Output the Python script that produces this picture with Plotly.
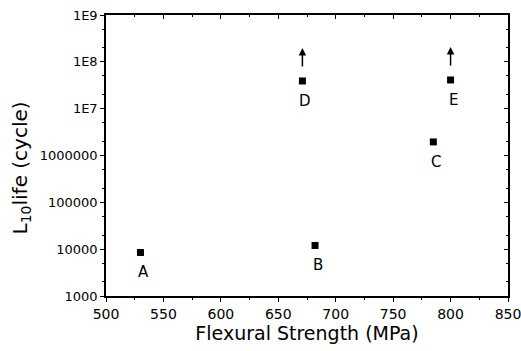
import math
import plotly.graph_objects as go

labels = ["A", "B", "C", "D", "E"]
strength = [530, 682, 785, 671, 800]
life = [8500, 12000, 1950000, 39000000, 41000000]
runout = [False, False, False, True, True]

ytick_vals = [1e3, 1e4, 1e5, 1e6, 1e7, 1e8, 1e9]
ytick_text = ["1000", "10000", "100000", "1000000", "1E7", "1E8", "1E9"]
xtick_vals = [500, 550, 600, 650, 700, 750, 800, 850]

FONT = "DejaVu Sans, Liberation Sans, Arial, sans-serif"

fig = go.Figure()
fig.add_trace(go.Scatter(
    x=strength, y=life, mode="markers",
    marker=dict(symbol="square", size=7, color="black"),
    showlegend=False, hoverinfo="skip",
))
fig.add_trace(go.Scatter(x=[strength[0]], y=[life[0]], xaxis="x2", yaxis="y2",
                         mode="markers", marker=dict(opacity=0), showlegend=False,
                         hoverinfo="skip"))

for lab, xv, yv, ro in zip(labels, strength, life, runout):
    ly = math.log10(yv)
    fig.add_annotation(x=xv, y=ly, text=lab, showarrow=False, xshift=3, yshift=-20,
                       font=dict(size=15, color="black", family=FONT))
    if ro:
        fig.add_annotation(x=xv, y=ly, text="", showarrow=True, ax=0, ay=20,
                           axref="pixel", ayref="pixel", yshift=33,
                           arrowhead=2, arrowsize=1, arrowwidth=1.5, arrowcolor="black")

# y-axis title as a rotated annotation
fig.add_annotation(text="L<sub>10</sub>life (cycle)", textangle=-90, showarrow=False,
                   xref="paper", yref="paper", x=0, y=0.5, xanchor="center",
                   yanchor="middle", xshift=-86, yshift=-13,
                   font=dict(size=20, color="black", family=FONT))

common_axis = dict(showgrid=False, zeroline=False, linecolor="black", linewidth=1.5,
                   tickcolor="black", tickwidth=1.2, automargin=False)

fig.update_layout(
    width=521, height=351,
    margin=dict(l=106, r=13, t=15, b=55),
    plot_bgcolor="white", paper_bgcolor="white",
    font=dict(family=FONT, color="black"),
    xaxis=dict(range=[500, 850], tickvals=xtick_vals, ticks="outside", ticklen=4,
               minor=dict(ticks="outside", ticklen=2, dtick=25, tickcolor="black"),
               ticklabeloverflow="allow",
               tickfont=dict(size=14), title=dict(text="Flexural Strength (MPa)",
               font=dict(size=19), standoff=6), **common_axis),
    yaxis=dict(type="log", range=[3, 9], tickvals=ytick_vals, ticktext=ytick_text,
               ticks="outside", ticklen=4, ticklabeloverflow="allow",
               minor=dict(ticks="outside", ticklen=2, tickcolor="black"),
               tickfont=dict(size=13), **common_axis),
    xaxis2=dict(range=[500, 850], overlaying="x", side="top", tickvals=xtick_vals,
                ticks="inside", ticklen=4, showticklabels=False,
                minor=dict(ticks="inside", ticklen=2, dtick=25, tickcolor="black"),
                **common_axis),
    yaxis2=dict(type="log", range=[3, 9], overlaying="y", side="right",
                tickvals=ytick_vals, ticks="inside", ticklen=4, showticklabels=False,
                minor=dict(ticks="inside", ticklen=2, tickcolor="black"),
                **common_axis),
)

fig.write_html("out.html", config={"displayModeBar": False},
               post_script="document.body.style.margin='0';")
